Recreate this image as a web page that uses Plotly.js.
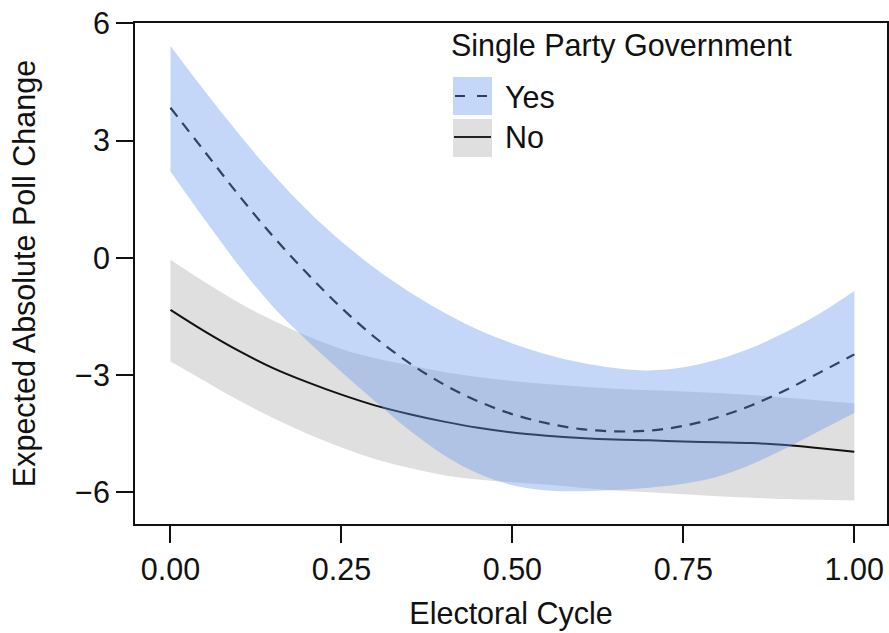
<!DOCTYPE html>
<html><head><meta charset="utf-8">
<script src="https://cdn.plot.ly/plotly-3.0.1.min.js"></script>
<style>html,body{margin:0;padding:0;background:#fff}#chart{width:889px;height:633px}</style>
</head><body><div id="chart"></div>
<script>
// Electoral cycle (x) grid
const cycle = [0, 0.05, 0.1, 0.15, 0.2, 0.25, 0.3, 0.35, 0.4, 0.45, 0.5,
               0.55, 0.6, 0.65, 0.7, 0.75, 0.8, 0.85, 0.9, 0.95, 1.0];
// Single party government: Yes
const yesMean  = [3.84, 2.72, 1.6, 0.55, -0.4, -1.28, -2.05, -2.7, -3.24, -3.67, -4.0,
                  -4.23, -4.38, -4.44, -4.42, -4.3, -4.08, -3.77, -3.38, -2.93, -2.47];
const yesUpper = [5.42, 4.27, 3.17, 2.14, 1.22, 0.42, -0.28, -0.88, -1.4, -1.84, -2.19,
                  -2.47, -2.68, -2.82, -2.88, -2.8, -2.6, -2.3, -1.9, -1.42, -0.85];
const yesLower = [2.21, 0.98, -0.2, -1.25, -2.12, -2.92, -3.68, -4.42, -5.05, -5.52, -5.82,
                  -5.95, -5.97, -5.94, -5.88, -5.78, -5.6, -5.28, -4.87, -4.42, -3.97];
// Single party government: No
const noMean   = [-1.33, -1.88, -2.38, -2.82, -3.18, -3.5, -3.78, -4.0, -4.19, -4.35, -4.47,
                  -4.55, -4.61, -4.65, -4.67, -4.7, -4.72, -4.74, -4.79, -4.87, -4.96];
const noUpper  = [-0.05, -0.62, -1.15, -1.6, -2.0, -2.33, -2.57, -2.75, -2.92, -3.05, -3.15,
                  -3.23, -3.29, -3.35, -3.39, -3.42, -3.46, -3.51, -3.58, -3.65, -3.72];
const noLower  = [-2.65, -3.15, -3.65, -4.1, -4.5, -4.85, -5.15, -5.38, -5.56, -5.67, -5.74,
                  -5.8, -5.88, -5.95, -6.0, -6.05, -6.1, -6.14, -6.17, -6.19, -6.21];

const xTickVals = [0, 0.25, 0.5, 0.75, 1];
const xTickText = ['0.00', '0.25', '0.50', '0.75', '1.00'];
const yTickVals = [-6, -3, 0, 3, 6];
const xTitle = 'Electoral Cycle';
const yTitle = 'Expected Absolute Poll Change';
const legendTitle = 'Single Party Government';
const groupLabels = ['Yes', 'No'];

const FONT = 'Liberation Sans, Arial, Helvetica, sans-serif';
const FS = 30.5;
const BLUE = 'rgba(100,149,237,0.38)';
const GREY = '#dfdfdf';

const traces = [
  {x: cycle, y: noLower, mode: 'lines', line: {width: 0, shape: 'spline'}, hoverinfo: 'skip', showlegend: false},
  {x: cycle, y: noUpper, mode: 'lines', line: {width: 0, shape: 'spline'}, fill: 'tonexty', fillcolor: GREY, hoverinfo: 'skip', showlegend: false},
  {x: cycle, y: noMean, mode: 'lines', line: {color: '#111', width: 2, shape: 'spline'}, showlegend: false},
  {x: cycle, y: yesMean, mode: 'lines', line: {color: '#111', width: 2.2, dash: '11px,8px', shape: 'spline'}, showlegend: false},
  {x: cycle, y: yesLower, mode: 'lines', line: {width: 0, shape: 'spline'}, hoverinfo: 'skip', showlegend: false},
  {x: cycle, y: yesUpper, mode: 'lines', line: {width: 0, shape: 'spline'}, fill: 'tonexty', fillcolor: BLUE, hoverinfo: 'skip', showlegend: false}
];

// helpers for the hand-drawn legend (paper coordinates from pixel positions)
const L = 135, T = 23, W = 752, H = 501;
const px = v => (v - L) / W;
const py = v => (T + H - v) / H;

const shapes = [
  {type: 'rect', xref: 'paper', yref: 'paper', x0: px(453), x1: px(492), y0: py(115), y1: py(77), fillcolor: BLUE, line: {width: 0}},
  {type: 'line', xref: 'paper', yref: 'paper', x0: px(455), x1: px(489), y0: py(96), y1: py(96), line: {color: '#2b3c5c', width: 2.2, dash: '10px,12px'}},
  {type: 'rect', xref: 'paper', yref: 'paper', x0: px(453), x1: px(492), y0: py(157), y1: py(119), fillcolor: GREY, line: {width: 0}},
  {type: 'line', xref: 'paper', yref: 'paper', x0: px(454), x1: px(491), y0: py(137), y1: py(137), line: {color: '#222', width: 2}}
];

const annotations = [
  {text: legendTitle, xref: 'paper', yref: 'paper', x: px(449), y: py(45), xanchor: 'left', yanchor: 'middle', showarrow: false, font: {family: FONT, size: FS, color: '#111'}},
  {text: groupLabels[0], xref: 'paper', yref: 'paper', x: px(503), y: py(97), xanchor: 'left', yanchor: 'middle', showarrow: false, font: {family: FONT, size: FS, color: '#111'}},
  {text: groupLabels[1], xref: 'paper', yref: 'paper', x: px(503), y: py(137), xanchor: 'left', yanchor: 'middle', showarrow: false, font: {family: FONT, size: FS, color: '#111'}}
];

const layout = {
  width: 889, height: 633,
  margin: {l: L, r: 889 - L - W, t: T, b: 633 - T - H},
  paper_bgcolor: '#fff', plot_bgcolor: '#fff',
  font: {family: FONT, color: '#111'},
  showlegend: false,
  xaxis: {
    range: [-0.0519, 1.0478], tickvals: xTickVals, ticktext: xTickText,
    ticks: 'outside', ticklen: 17, tickwidth: 2, tickcolor: '#111',
    showline: true, linewidth: 2, linecolor: '#111', mirror: true,
    showgrid: false, zeroline: false,
    tickfont: {family: FONT, size: FS, color: '#111'},
    title: {text: xTitle, font: {family: FONT, size: FS, color: '#111'}, standoff: 18}
  },
  yaxis: {
    range: [-6.81, 6.01], tickvals: yTickVals,
    ticks: 'outside', ticklen: 17, tickwidth: 2, tickcolor: '#111',
    showline: true, linewidth: 2, linecolor: '#111', mirror: true,
    showgrid: false, zeroline: false,
    tickfont: {family: FONT, size: FS, color: '#111'},
    title: {text: yTitle, font: {family: FONT, size: FS, color: '#111'}, standoff: 30}
  },
  shapes: shapes,
  annotations: annotations
};

Plotly.newPlot('chart', traces, layout, {displayModeBar: false, staticPlot: true});
</script>
</body></html>
